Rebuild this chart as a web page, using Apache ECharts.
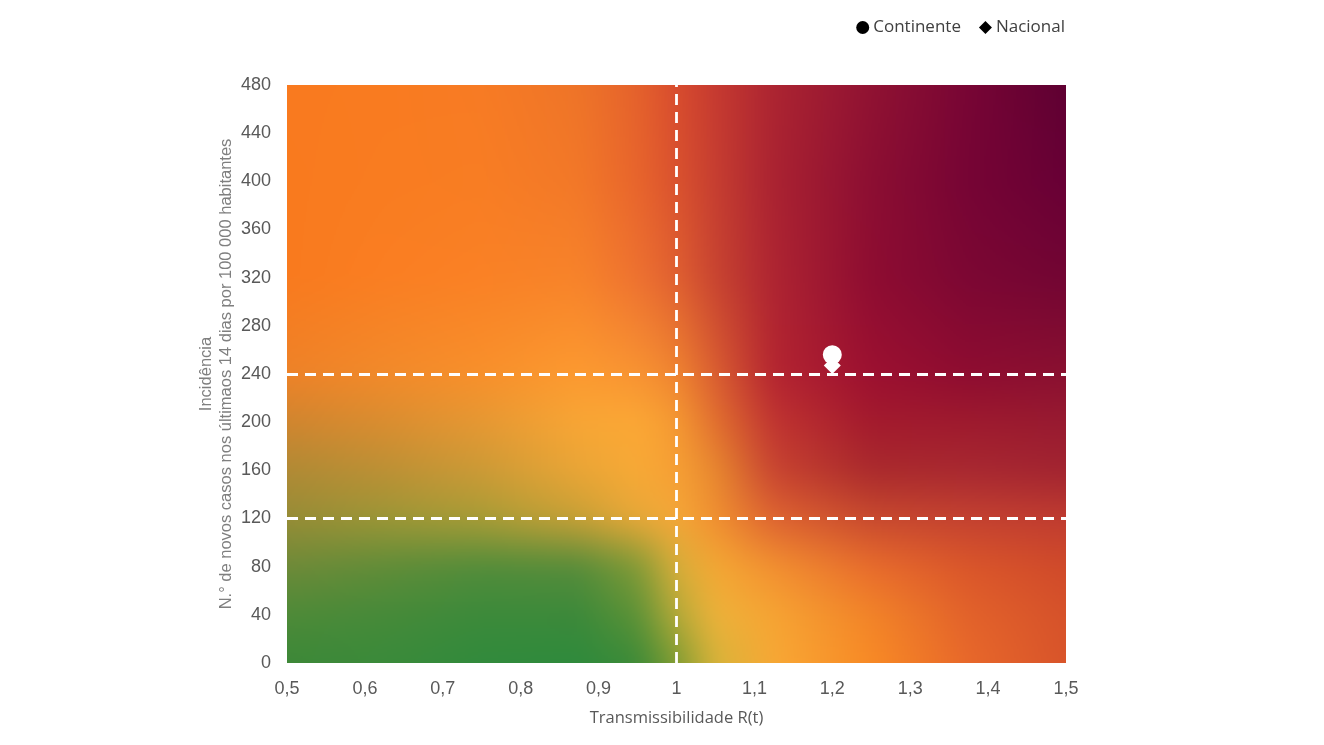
<!DOCTYPE html>
<html>
<head>
<meta charset="utf-8">
<script src="https://cdn.jsdelivr.net/npm/echarts@6/dist/echarts.min.js"></script>
<style>html,body{margin:0;padding:0;background:#fff;}#chart{width:1324px;height:745px;}</style>
</head>
<body>
<div id="chart"></div>
<script>
// ---- data ----
const xTicks = [0.5, 0.6, 0.7, 0.8, 0.9, 1.0, 1.1, 1.2, 1.3, 1.4, 1.5];
const yTicks = [0, 40, 80, 120, 160, 200, 240, 280, 320, 360, 400, 440, 480];
const seriesNames = ['Continente', 'Nacional'];
const continenteData = [[1.2, 256]];
const nacionalData = [[1.2, 247]];
const thresholdX = [1];
const thresholdY = [120, 240];
const xAxisName = 'Transmissibilidade R(t)';
const yAxisName = 'Incidência\nN.° de novos casos nos últimaos 14 dias por 100 000 habitantes';

// ---- background colour field (style) ----
const bgX = [0.5, 0.625, 0.75, 0.875, 0.95, 1.0, 1.05, 1.125, 1.25, 1.375, 1.5];
const bgY = [480, 400, 320, 240, 200, 160, 120, 80, 40, 0];
const bgColors = [
  ['#F97A1F','#F97B20','#F77B24','#EE7428','#E5622C','#D84C2E','#C63A30','#AC2431','#901232','#780534','#5E0032'],
  ['#F97A1E','#F97C20','#F87D23','#F27828','#E8652C','#DA522E','#C63E30','#AA2231','#8C0E32','#760434','#680035'],
  ['#F97A1E','#FA7E22','#FA8125','#F7832A','#EE7230','#E06030','#C84430','#AE2431','#8E0C31','#7C0733','#720533'],
  ['#EE8228','#F28A2A','#F8902B','#FC9A30','#F89432','#F08530','#DA5E30','#B42430','#9C1030','#8E0C30','#8A1030'],
  ['#D0852F','#DA8D30','#E69833','#F8A635','#FBA835','#F59A32','#E2702F','#C03430','#A31A2D','#9E1A2E','#981A30'],
  ['#B08A35','#BC9035','#CC9A36','#EAA536','#F8A936','#F6A034','#E8882F','#C84430','#AA2A2C','#A82830','#A22430'],
  ['#968C36','#9C9636','#A89C36','#C8A036','#E8A838','#F5A838','#F09030','#DE6430','#C84A2E','#C44230','#C03C30'],
  ['#6E8A38','#608C38','#528C3A','#568C3A','#809A36','#D8AE3A','#F4A834','#F29030','#E86C2C','#DA562A','#D04A2A'],
  ['#4E8A38','#468A39','#3C8A3A','#3C893A','#5C9236','#B4AA38','#EEB23A','#F6A433','#F28428','#E2622A','#D6522A'],
  ['#3C8838','#3A8A3A','#318A3C','#2E8A3C','#3C8A38','#7E9C32','#D8B43A','#F8A835','#F88A25','#E8682A','#D8542A']
];

function hexRgb(h){return [parseInt(h.substr(1,2),16),parseInt(h.substr(3,2),16),parseInt(h.substr(5,2),16)];}
const rgbGrid = bgColors.map(r => r.map(hexRgb));

function segIndex(arr, v, desc){
  for (let i = 0; i < arr.length - 1; i++) {
    const a = arr[i], b = arr[i+1];
    if (desc ? (v <= a && v >= b) : (v >= a && v <= b)) return [i, (v - a) / (b - a)];
  }
  if (desc) return v > arr[0] ? [0, 0] : [arr.length - 2, 1];
  return v < arr[0] ? [0, 0] : [arr.length - 2, 1];
}

function buildBackground(){
  const W = 520, H = 386, pad = 24;
  const big = document.createElement('canvas');
  big.width = W + 2*pad; big.height = H + 2*pad;
  const ctx = big.getContext('2d');
  const img = ctx.createImageData(big.width, big.height);
  const x0 = bgX[0], x1 = bgX[bgX.length-1], y0 = bgY[bgY.length-1], y1 = bgY[0];
  for (let j = 0; j < big.height; j++) {
    let fy = Math.min(1, Math.max(0, (j - pad + 0.5) / H));
    const yv = y1 - fy * (y1 - y0);
    const [ri, ty] = segIndex(bgY, yv, true);
    for (let i = 0; i < big.width; i++) {
      let fx = Math.min(1, Math.max(0, (i - pad + 0.5) / W));
      const xv = x0 + fx * (x1 - x0);
      const [ci, tx] = segIndex(bgX, xv, false);
      const a = rgbGrid[ri][ci], b = rgbGrid[ri][ci+1], c = rgbGrid[ri+1][ci], d = rgbGrid[ri+1][ci+1];
      const k = (j * big.width + i) * 4;
      for (let m = 0; m < 3; m++) {
        const top = a[m] + (b[m] - a[m]) * tx;
        const bot = c[m] + (d[m] - c[m]) * tx;
        img.data[k+m] = top + (bot - top) * ty;
      }
      img.data[k+3] = 255;
    }
  }
  ctx.putImageData(img, 0, 0);
  const blurred = document.createElement('canvas');
  blurred.width = big.width; blurred.height = big.height;
  const bctx = blurred.getContext('2d');
  bctx.filter = 'blur(8px)';
  bctx.drawImage(big, 0, 0);
  const out = document.createElement('canvas');
  out.width = W; out.height = H;
  out.getContext('2d').drawImage(blurred, pad, pad, W, H, 0, 0, W, H);
  return out;
}
const bgCanvas = buildBackground();

const chart = echarts.init(document.getElementById('chart'), null, {renderer: 'canvas'});
const gray = '#595959';
const fmtX = v => String(Math.round(v * 10) / 10).replace('.', ',');

chart.setOption({
  animation: false,
  backgroundColor: '#fff',
  grid: {left: 287, right: 258, top: 85, bottom: 82, containLabel: false},
  legend: {
    top: 14, right: 254,
    itemWidth: 13, itemHeight: 13, itemGap: 18,
    textStyle: {fontFamily: 'Open Sans', fontSize: 17, color: '#404040', padding: [0, 0, 0, -1]},
    itemStyle: {color: '#000', borderWidth: 0},
    data: [{name: seriesNames[0], icon: 'circle'}, {name: seriesNames[1], icon: 'diamond'}]
  },
  xAxis: {
    type: 'value', min: xTicks[0], max: xTicks[xTicks.length-1], interval: 0.1,
    axisLine: {show: false}, axisTick: {show: false}, splitLine: {show: false},
    axisLabel: {formatter: fmtX, fontFamily: 'Liberation Sans', fontSize: 18, color: gray, margin: 17},
    name: xAxisName, nameLocation: 'middle', nameGap: 47, nameMoveOverlap: false,
    nameTextStyle: {fontFamily: 'Open Sans', fontSize: 16.5, color: gray}
  },
  yAxis: {
    type: 'value', min: yTicks[0], max: yTicks[yTicks.length-1], interval: 40,
    axisLine: {show: false}, axisTick: {show: false}, splitLine: {show: false},
    axisLabel: {fontFamily: 'Liberation Sans', fontSize: 18, color: gray, margin: 16},
    name: yAxisName, nameLocation: 'middle', nameGap: 51, nameMoveOverlap: false,
    nameTextStyle: {fontFamily: 'Liberation Sans', fontSize: 16.5, color: '#7f7f7f', lineHeight: 20, align: 'center'}
  },
  series: [
    {
      type: 'custom', silent: true, z: 1,
      encode: {x: [0, 2], y: [1, 3]},
      data: [[xTicks[0], yTicks[yTicks.length-1], xTicks[xTicks.length-1], yTicks[0]]],
      renderItem: function (params, api) {
        const p1 = api.coord([api.value(0), api.value(1)]);
        const p2 = api.coord([api.value(2), api.value(3)]);
        return {type: 'image', silent: true,
          style: {image: bgCanvas, x: p1[0], y: p1[1], width: p2[0] - p1[0], height: p2[1] - p1[1]}};
      }
    },
    {
      type: 'line', data: [], z: 3, silent: true,
      markLine: {
        silent: true, symbol: 'none', animation: false,
        label: {show: false},
        lineStyle: {color: '#ffffff', type: [11, 7], width: 2.8, opacity: 1},
        emphasis: {disabled: true},
        data: thresholdX.map(v => ({xAxis: v})).concat(thresholdY.map(v => ({yAxis: v})))
      }
    },
    {
      name: seriesNames[1], type: 'scatter', symbol: 'diamond', symbolSize: 17, z: 4,
      itemStyle: {color: '#ffffff', opacity: 1}, data: nacionalData
    },
    {
      name: seriesNames[0], type: 'scatter', symbol: 'circle', symbolSize: 19, z: 5,
      itemStyle: {color: '#ffffff', opacity: 1}, data: continenteData
    }
  ]
});
</script>
</body>
</html>
